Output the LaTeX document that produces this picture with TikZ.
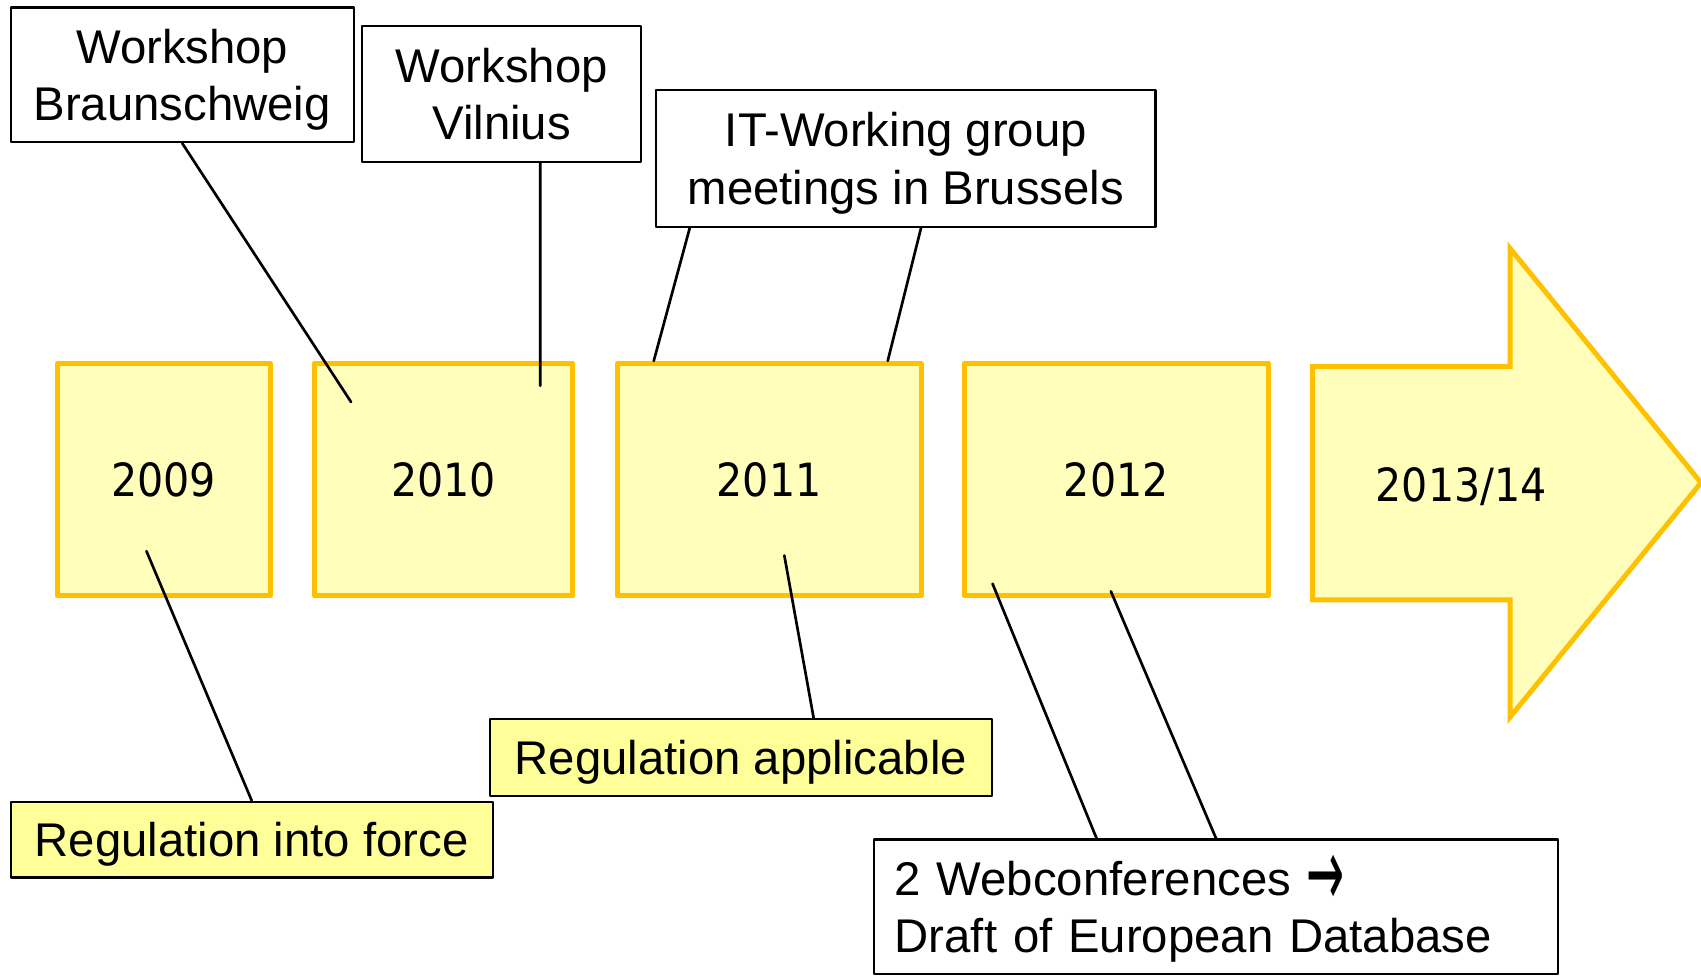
\documentclass[tikz,border=0pt]{standalone}
\usepackage{fontspec}
\setmainfont{Liberation Sans}
\newfontfamily\yearfont{DejaVu Sans Condensed}
\newfontfamily\arrowfont{DejaVu Sans}
\definecolor{boxfill}{HTML}{FFFFBB}
\definecolor{boxline}{HTML}{FFC000}
\definecolor{notefill}{HTML}{FFFF99}

\begin{document}
\begin{tikzpicture}[line cap=round,line join=round,x=0.01cm,y=-0.01cm,
		yearbox/.style={draw=boxline,fill=boxfill,line width=1.3pt,minimum height=2.14cm,font=\yearfont\fontsize{12}{14}\selectfont},
		note/.style={draw=black,line width=0.6pt,inner sep=0pt,text depth=0pt,align=center,font=\fontsize{12.4}{15}\selectfont},
		link/.style={line width=0.7pt}]
		\useasboundingbox (0,0) rectangle (1568,900);
		\node[yearbox,minimum width=1.96cm] (y2009) at (151,442) {2009};
		\node[yearbox,minimum width=2.38cm] (y2010) at (409,442) {2010};
		\node[yearbox,minimum width=2.80cm] (y2011) at (709,442) {2011};
		\node[yearbox,minimum width=2.80cm] (y2012) at (1029,442) {2012};
		\draw [draw=boxline,fill=boxfill,line width=1.3pt,line join=miter] (1210,338) -- (1392,338) -- (1392,229) -- (1568,445) -- (1392,661) -- (1392,553) -- (1210,553) -- cycle;
		\node[font=\yearfont\fontsize{12}{14}\selectfont] (y2013) at (1347,449) {2013/14};
		\node[note,minimum width=3.16cm,minimum height=1.24cm] (bs) at (168,69) {Workshop\\Braunschweig};
		\node[note,minimum width=2.57cm,minimum height=1.25cm] (vil) at (462.5,86.5) {Workshop\\Vilnius};
		\node[note,minimum width=4.60cm,minimum height=1.26cm] (bru) at (835,146) {IT-Working group\\meetings in Brussels};
		\node[note,fill=notefill,minimum width=4.44cm,minimum height=0.70cm] (force) at (232,774) {Regulation into force};
		\node[note,fill=notefill,minimum width=4.62cm,minimum height=0.71cm] (appl) at (683,698.5) {Regulation applicable};
		\node[note,align=left,text width=5.92cm,text depth=15pt,inner xsep=0.19cm,minimum height=1.24cm] (web) at (1121,836) {2 Webconferences {\arrowfont\fontsize{17}{15}\selectfont\smash{\raisebox{-3pt}{\scalebox{0.7}[1.5]{→}}}}\\Draft of European Database};
		\draw[link] (bs.south) -- ([xshift=0.36cm,yshift=-0.38cm]y2010.north west);
		\draw[link] ([xshift=0.355cm]vil.south) -- ([xshift=0.89cm,yshift=-0.23cm]y2010.north);
		\draw[link] ([xshift=0.32cm]bru.south west) -- ([xshift=0.36cm]y2011.north west);
		\draw[link] ([xshift=-2.17cm]bru.south east) -- ([xshift=-0.33cm]y2011.north east);
		\draw[link] ([xshift=-0.16cm,yshift=-0.66cm]y2009.center) -- (force.north);
		\draw[link] ([xshift=0.14cm,yshift=-0.70cm]y2011.center) -- ([xshift=0.67cm]appl.north);
		\draw[link] ([xshift=-1.14cm,yshift=-0.96cm]y2012.center) -- ([xshift=2.06cm]web.north west);
		\draw[link] ([xshift=-0.05cm,yshift=-1.03cm]y2012.center) -- (web.north);
	\end{tikzpicture}
\end{document}
